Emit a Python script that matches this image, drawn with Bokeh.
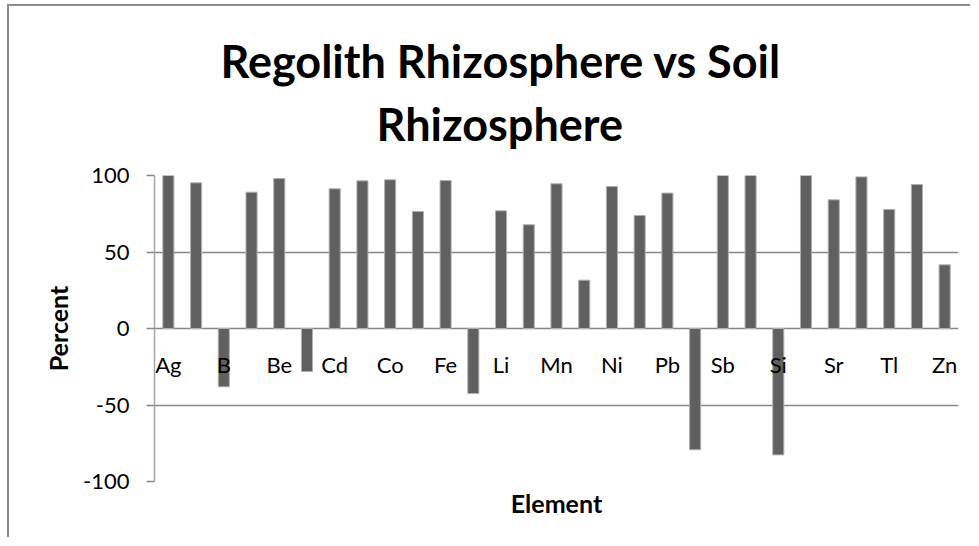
from bokeh.plotting import figure
from bokeh.models import ColumnDataSource, Range1d, FixedTicker, Title
from bokeh.core.properties import value
from bokeh.embed import file_html
from bokeh.resources import INLINE

# ---- data ----
elements = ["Ag", "Al", "B", "Ba", "Be", "Ca", "Cd", "Ce", "Co", "Cr",
            "Fe", "K", "Li", "Mg", "Mn", "Mo", "Ni", "P", "Pb", "S",
            "Sb", "Se", "Si", "Sn", "Sr", "Ti", "Tl", "V", "Zn"]
percent = [100, 95.2, -38.1, 89.1, 98.0, -28.1, 91.3, 96.5, 97.2, 76.5,
           96.7, -42.5, 76.9, 67.8, 94.6, 31.6, 92.8, 73.9, 88.5, -79.3,
           100, 100, -82.6, 100, 84.1, 99.1, 77.8, 94.1, 41.6]
y_ticks = [-100, -50, 0, 50, 100]
title_lines = ["Regolith Rhizosphere vs Soil", "Rhizosphere"]
x_title = "Element"
y_title = "Percent"

FONT = "Lato"
idx = list(range(len(elements)))
src = ColumnDataSource(dict(x=idx, top=percent, name=elements))
shown = [i for i in idx if i % 2 == 0]
lab_src = ColumnDataSource(dict(x=shown, y=[0] * len(shown),
                                text=[elements[i] for i in shown]))

p = figure(width=963, height=533, output_backend="svg", toolbar_location=None,
           x_range=Range1d(-0.5, len(elements) - 0.5), y_range=Range1d(-100, 100),
           min_border_left=145, min_border_right=14, min_border_top=169,
           min_border_bottom=58, tools="")
p.styles = {"border-top": "2px solid #8c8c8c", "border-left": "2px solid #8c8c8c",
            "margin-left": "7px", "margin-top": "4px"}
p.outline_line_color = None
p.background_fill_color = "white"
p.border_fill_color = "white"

p.vbar(x="x", top="top", bottom=0, width=0.4, source=src,
       fill_color="#606060", line_color="#b0b0b0", line_width=1)

p.text(x="x", y="y", text="text", source=lab_src, text_align="center",
       text_baseline="alphabetic", y_offset=36, text_font=value(FONT),
       text_font_size="22px", text_color="black")

# y axis
p.yaxis.ticker = FixedTicker(ticks=y_ticks)
p.yaxis.major_label_overrides = {t: str(t) for t in y_ticks}
p.yaxis.minor_tick_line_color = None
p.yaxis.major_tick_in = 0
p.yaxis.major_tick_out = 8
p.yaxis.major_tick_line_color = "#878787"
p.yaxis.major_tick_line_width = 1.5
p.yaxis.axis_line_color = "#a6a6a6"
p.yaxis.axis_line_width = 1.5
p.yaxis.major_label_text_font = FONT
p.yaxis.major_label_text_font_size = "22px"
p.yaxis.major_label_text_color = "black"
p.yaxis.major_label_standoff = 17
p.yaxis.axis_label = y_title
p.yaxis.axis_label_text_font = FONT
p.yaxis.axis_label_text_font_style = "bold"
p.yaxis.axis_label_text_font_size = "25px"
p.yaxis.axis_label_text_color = "black"
p.yaxis.axis_label_standoff = 7

# x axis (title only)
p.xaxis.ticker = FixedTicker(ticks=[])
p.xaxis.major_label_text_font_size = "0px"
p.xaxis.major_tick_out = 0
p.xaxis.major_tick_in = 0
p.xaxis.minor_tick_line_color = None
p.xaxis.axis_line_color = None
p.xaxis.major_label_standoff = 0
p.xaxis.axis_label = x_title
p.xaxis.axis_label_text_font = FONT
p.xaxis.axis_label_text_font_style = "bold"
p.xaxis.axis_label_text_font_size = "25px"
p.xaxis.axis_label_text_color = "black"
p.xaxis.axis_label_standoff = 6

p.xgrid.grid_line_color = None
p.ygrid.ticker = FixedTicker(ticks=y_ticks)
p.ygrid.grid_line_color = "#878787"
p.ygrid.grid_line_width = 1.5

# title: spacer nearest the plot, then second line, then first line
p.add_layout(Title(text=" ", text_font_size="1px", standoff=18), "above")
p.add_layout(Title(text=title_lines[1], align="left", offset=222, standoff=7,
                   text_font=FONT, text_font_style="bold", text_font_size="45px",
                   text_color="black"), "above")
p.add_layout(Title(text=title_lines[0], align="left", offset=66, standoff=7,
                   text_font=FONT, text_font_style="bold", text_font_size="45px",
                   text_color="black"), "above")

open("out.html", "w").write(file_html(p, INLINE))
